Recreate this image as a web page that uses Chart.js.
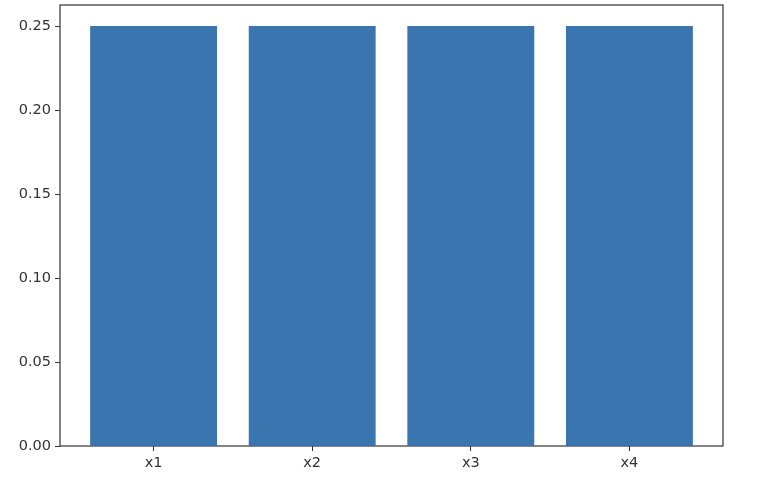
<!DOCTYPE html>
<html><head><meta charset="utf-8">
<script src="https://cdn.jsdelivr.net/npm/chart.js@4"></script>
<style>html,body{margin:0;padding:0;background:#fff}#wrap{width:768px;height:484px}</style>
</head><body><div id="wrap"><canvas id="c"></canvas></div>
<script>
const categories = ["x1", "x2", "x3", "x4"];
const values = [0.25, 0.25, 0.25, 0.25];
const yTicks = [0, 0.05, 0.10, 0.15, 0.20, 0.25];

const frame = {
  id: 'frame',
  afterDraw(chart) {
    const a = chart.chartArea, ctx = chart.ctx;
    ctx.save();
    ctx.strokeStyle = '#333';
    ctx.lineWidth = 1.2;
    ctx.strokeRect(a.left, a.top, a.right - a.left, a.bottom - a.top);
    ctx.restore();
  }
};

new Chart(document.getElementById('c'), {
  type: 'bar',
  data: {
    datasets: [{
      data: values.map((v, i) => ({x: i, y: v})),
      backgroundColor: '#3b75af',
      borderWidth: 0,
      categoryPercentage: 1,
      barPercentage: 0.8
    }]
  },
  options: {
    responsive: true, maintainAspectRatio: false, animation: false,
    layout: {padding: {top: 5, right: 45, left: 0, bottom: 0}},
    plugins: {legend: {display: false}, tooltip: {enabled: false}},
    scales: {
      x: {
        type: 'linear', min: -0.59, max: 3.59, offset: false,
        afterBuildTicks: s => { s.ticks = categories.map((c, i) => ({value: i})); },
        afterFit: s => { s.height = 38; s.paddingLeft = 0; s.paddingRight = 0; },
        grid: {offset: false, drawOnChartArea: false, drawTicks: true, tickLength: 5, color: '#333', tickWidth: 1},
        border: {display: false},
        ticks: {callback: v => categories[v], font: {family: 'DejaVu Sans', size: 14.5}, color: '#333', padding: 4, maxRotation: 0, autoSkip: false}
      },
      y: {
        min: 0, max: 0.2625,
        afterBuildTicks: s => { s.ticks = yTicks.map(v => ({value: v})); },
        afterFit: s => { s.width = 60; s.paddingTop = 0; s.paddingBottom = 0; },
        grid: {drawOnChartArea: false, drawTicks: true, tickLength: 5, color: '#333', tickWidth: 1},
        border: {display: false},
        ticks: {callback: v => Number(v).toFixed(2), font: {family: 'DejaVu Sans', size: 14.5}, color: '#333', padding: 4}
      }
    }
  },
  plugins: [frame]
});
</script>
</body></html>
